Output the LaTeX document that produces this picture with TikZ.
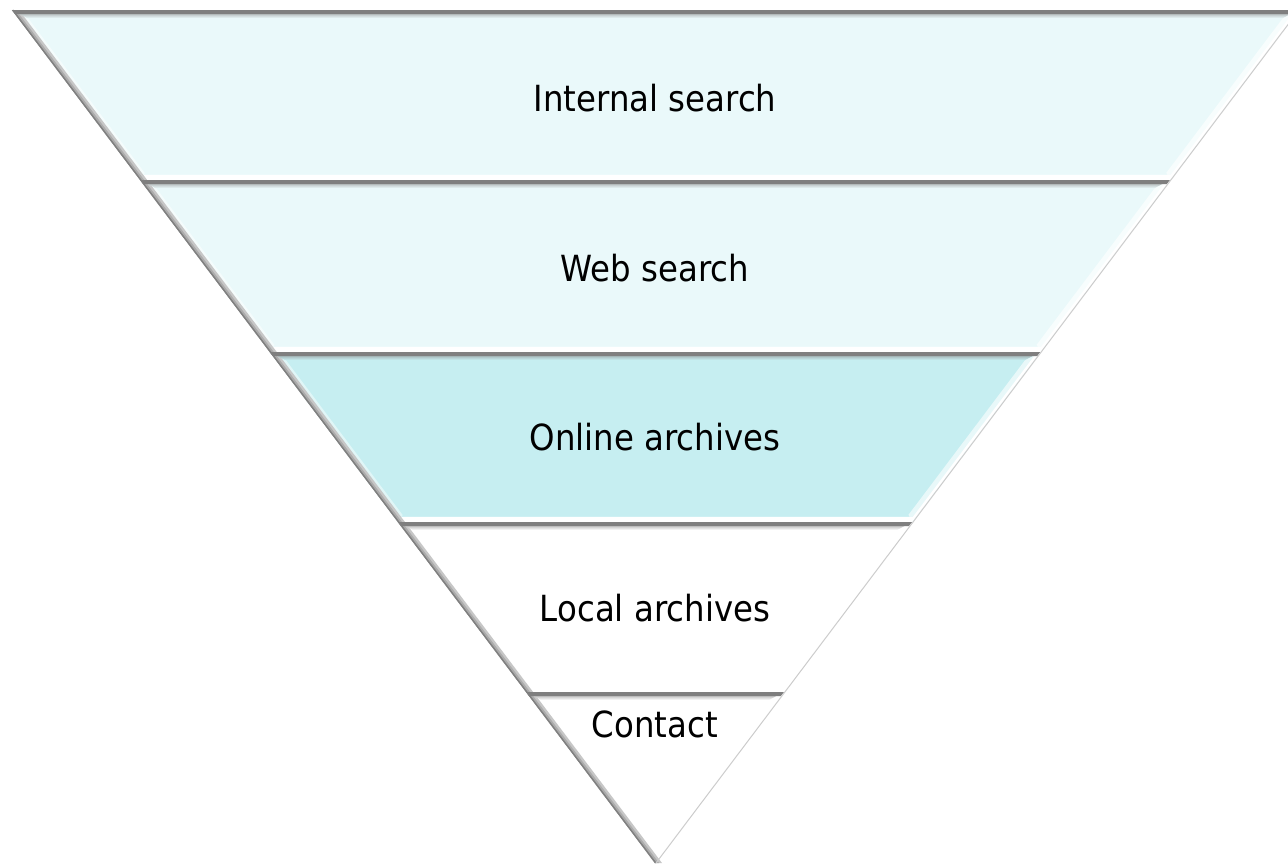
\documentclass[tikz,border=0pt]{standalone}
\usepackage{fontspec}
\newfontfamily\labfont{DejaVu Sans}[FakeStretch=0.9]
\definecolor{paleband}{HTML}{EAF9FA}
\definecolor{midband}{HTML}{C6EEF1}
\definecolor{topgray}{HTML}{7F7F7F}
\tikzset{
  declare function={lx(\y)=655-0.75381*(863-\y); rx(\y)=655+0.75381*(863-\y);},
  lab/.style={font=\labfont\fontsize{36}{40}\selectfont, anchor=base, inner sep=0pt},
}
% #1 top y, #2 bottom y, #3 fill colour, #4 inner bottom y
\newcommand\pyrband[4]{%
  \fill[#3] ({lx(#1)},#1) -- ({rx(#1)},#1) -- ({rx(#2)},#2) -- ({lx(#2)},#2) -- cycle;
  % right bevel
  \fill[white!60!#3] ({rx(#1)},#1) -- ({rx(#2)},#2) -- ({rx(#4)-9},#4) -- ({rx(#1+7)-9},#1+7) -- cycle;
  \fill[white] ({rx(#1)},#1) -- ({rx(#2)},#2) -- ({rx(#2)-3},#2) -- ({rx(#1)-3},#1) -- cycle;
  % bottom bevel
  \shade[top color=#3, bottom color=white] ({lx(#2)},#2) -- ({rx(#2)},#2) -- ({rx(#4)-9},#4) -- ({lx(#4)+9},#4) -- cycle;
  \fill[white] ({lx(#2-5)+2},#2-5) -- ({rx(#2-5)-2},#2-5) -- ({rx(#2)},#2) -- ({lx(#2)},#2) -- cycle;
  % left bevel
  \fill[white!45!#3] ({lx(#1)},#1) -- ({lx(#1+7)+10},#1+7) -- ({lx(#4)+10},#4) -- ({lx(#2)},#2) -- cycle;
  \fill[black!22] ({lx(#1)},#1) -- ({lx(#1)+7},#1) -- ({lx(#2)+7},#2) -- ({lx(#2)},#2) -- cycle;
  \fill[black!33] ({lx(#1)},#1) -- ({lx(#1)+4},#1) -- ({lx(#2)+4},#2) -- ({lx(#2)},#2) -- cycle;
  \draw[black!50, line width=1.5pt] ({lx(#1)+0.7},#1) -- ({lx(#2)+0.7},#2);
  % top bevel
  \shade[top color=black!45, bottom color=#3] ({lx(#1)},#1) -- ({rx(#1)},#1) -- ({rx(#1+8)-9},#1+8) -- ({lx(#1+8)+9},#1+8) -- cycle;
  \fill[topgray] ({lx(#1)},#1) -- ({rx(#1)},#1) -- ({rx(#1+4)},#1+4) -- ({lx(#1+4)},#1+4) -- cycle;
}
\begin{document}
\begin{tikzpicture}[x=1pt,y=-1pt]
  \useasboundingbox (0,0) rectangle (1288,865);
  \pyrband{10}{180}{paleband}{173}
  \pyrband{180}{352}{paleband}{345}
  \pyrband{352}{522}{midband}{515}
  \pyrband{522}{692}{white}{685}
  \pyrband{692}{863}{white}{851}
  \draw[black!20, line width=1pt] ({rx(10)+1},10) -- (656,863);
  \node[lab] (internal) at (655,111) {Internal search};
  \node[lab] (web) at (655,281) {Web search};
  \node[lab] (online) at (655,450) {Online archives};
  \node[lab] (local) at (655,621) {Local archives};
  \node[lab] (contact) at (655,737) {Contact};
\end{tikzpicture}
\end{document}
